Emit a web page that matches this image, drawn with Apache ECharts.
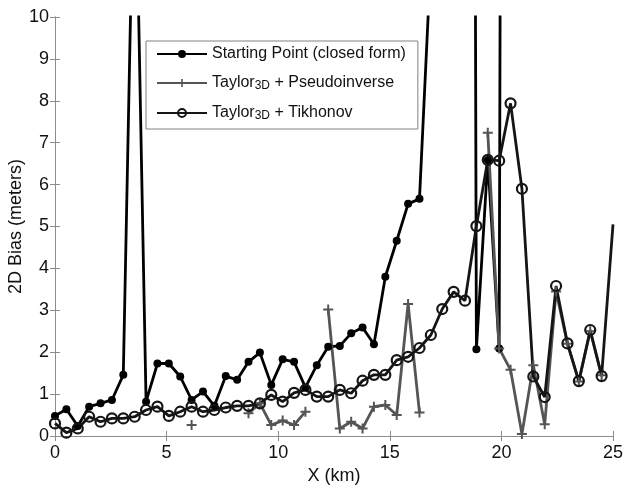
<!DOCTYPE html>
<html>
<head>
<meta charset="utf-8">
<script src="https://cdn.jsdelivr.net/npm/echarts@6/dist/echarts.min.js"></script>
<style>
  html, body { margin: 0; padding: 0; background: #fff; }
  #chart { width: 625px; height: 488px; }
</style>
</head>
<body>
<div id="chart"></div>
<script>
// x positions of the samples (km)
const xKm = [0.00, 0.51, 1.02, 1.53, 2.04, 2.55, 3.06, 3.57, 4.08, 4.59,
  5.10, 5.61, 6.12, 6.63, 7.14, 7.65, 8.16, 8.67, 9.18, 9.69,
  10.20, 10.71, 11.22, 11.73, 12.24, 12.76, 13.27, 13.78, 14.29, 14.80,
  15.31, 15.82, 16.33, 16.84, 17.35, 17.86, 18.37, 18.88, 19.39, 19.90,
  20.41, 20.92, 21.43, 21.94, 22.45, 22.96, 23.47, 23.98, 24.49, 25.00];

// Starting Point (closed form)
const startBias = [0.48, 0.64, 0.24, 0.70, 0.78, 0.86, 1.46, 15.0, 0.82, 1.73,
  1.73, 1.42, 0.86, 1.06, 0.72, 1.43, 1.34, 1.77, 1.99, 1.22,
  1.83, 1.77, 1.16, 1.69, 2.13, 2.15, 2.45, 2.59, 2.19, 3.80,
  4.66, 5.54, 5.66, 11.4, 40, 70, 100, 2.07, 6.59, 2.09,
  100, 100, 100, 100, 100, 100, 100, 100, 100, 100];

// Taylor3D + Pseudoinverse (null = no value)
const pinvBias = [null, null, null, null, null, null, null, null, null, null,
  null, null, 0.26, null, null, null, null, 0.54, 0.78, 0.26,
  0.37, 0.26, 0.58, null, 3.02, 0.18, 0.34, 0.18, 0.70, 0.74,
  0.50, 3.15, 0.56, null, null, null, null, null, 7.24, 2.09,
  1.58, 0.05, 1.69, 0.28, 3.45, 2.20, 1.30, 2.50, 1.45, null];

// Taylor3D + Tikhonov
const tikhBias = [0.30, 0.08, 0.18, 0.46, 0.34, 0.42, 0.42, 0.46, 0.62, 0.70,
  0.48, 0.58, 0.70, 0.58, 0.62, 0.68, 0.72, 0.72, 0.78, 0.98,
  0.82, 1.03, 1.10, 0.94, 0.94, 1.10, 1.02, 1.32, 1.46, 1.46,
  1.81, 1.89, 2.10, 2.41, 3.03, 3.44, 3.23, 5.01, 6.59, 6.57,
  7.94, 5.90, 1.42, 0.93, 3.58, 2.21, 1.31, 2.53, 1.43, 5.05];

const xTicks = [0, 5, 10, 15, 20, 25];
const yTicks = [0, 1, 2, 3, 4, 5, 6, 7, 8, 9, 10];

const names = ['Starting Point (closed form)', 'Taylor3D + Pseudoinverse', 'Taylor3D + Tikhonov'];

function pairs(ys) {
  return xKm.map(function (x, i) { return [x, ys[i] == null ? '-' : ys[i]]; });
}

const font = 'Liberation Sans, Arial, Helvetica, sans-serif';
const plus = 'path://M4,0h2v4h4v2h-4v4h-2v-4h-4v-2h4z';
const lastIdx = xKm.length - 1;

let myChart = echarts.init(document.getElementById('chart'));
let option = {
  animation: false,
  textStyle: { fontFamily: font },
  grid: { left: 55, right: 12, top: 17, bottom: 52, containLabel: false, outerBoundsMode: 'none' },
  legend: {
    orient: 'vertical',
    left: 146,
    top: 41,
    padding: [5, 12, 7, 10],
    itemGap: 6,
    itemWidth: 50,
    itemHeight: 10,
    backgroundColor: '#fff',
    borderColor: '#808080',
    borderWidth: 1,
    data: names,
    formatter: function (name) {
      if (name.indexOf('Taylor3D') === 0) {
        return '{n|Taylor}{sub|3D}{n|' + name.slice(8) + '}';
      }
      return '{n|' + name + '}';
    },
    textStyle: {
      color: '#111',
      rich: {
        n: { fontSize: 16, lineHeight: 18, fontFamily: font, color: '#111', verticalAlign: 'middle' },
        sub: { fontSize: 12, lineHeight: 12, fontFamily: font, color: '#111', padding: [12, 0, 0, 0], verticalAlign: 'bottom' }
      }
    }
  },
  xAxis: [
    {
      type: 'value',
      min: 0,
      max: 25,
      interval: 5,
      name: 'X (km)',
      nameLocation: 'middle',
      nameGap: 29,
      nameTextStyle: { fontSize: 18, color: '#111', fontFamily: font },
      axisLine: { show: true, lineStyle: { color: '#8c8c8c', width: 1 } },
      axisTick: { show: true, inside: true, length: 5, lineStyle: { color: '#8c8c8c' } },
      axisLabel: { fontSize: 18, color: '#111', margin: 8,
        formatter: function (v) { return xTicks.indexOf(v) >= 0 ? String(v) : ''; } },
      splitLine: { show: false }
    },
    {
      type: 'value',
      position: 'top',
      min: 0,
      max: 25,
      interval: 5,
      axisLine: { show: true, lineStyle: { color: '#8c8c8c', width: 1 } },
      axisTick: { show: true, inside: true, length: 5, lineStyle: { color: '#8c8c8c' } },
      axisLabel: { show: false },
      splitLine: { show: false }
    }
  ],
  yAxis: [
    {
      type: 'value',
      min: 0,
      max: 10,
      interval: 1,
      name: '2D Bias (meters)',
      nameLocation: 'middle',
      nameGap: 30,
      nameMoveOverlap: false,
      nameTextStyle: { fontSize: 18, color: '#111', fontFamily: font },
      axisLine: { show: true, lineStyle: { color: '#8c8c8c', width: 1 } },
      axisTick: { show: true, inside: true, length: 5, lineStyle: { color: '#8c8c8c' } },
      axisLabel: { fontSize: 18, color: '#111', margin: 6,
        formatter: function (v) { return yTicks.indexOf(v) >= 0 ? String(v) : ''; } },
      splitLine: { show: false }
    },
    {
      type: 'value',
      position: 'right',
      min: 0,
      max: 10,
      interval: 1,
      axisLine: { show: true, lineStyle: { color: '#8c8c8c', width: 1 } },
      axisTick: { show: true, inside: true, length: 5, lineStyle: { color: '#8c8c8c' } },
      axisLabel: { show: false },
      splitLine: { show: false }
    }
  ],
  series: [
    {
      name: names[0],
      type: 'line',
      data: pairs(startBias),
      clip: true,
      symbol: 'circle',
      symbolSize: 8,
      showAllSymbol: true,
      itemStyle: { color: '#000' },
      lineStyle: { color: '#000', width: 2.8 }
    },
    {
      name: names[1],
      type: 'line',
      data: pairs(pinvBias),
      clip: true,
      connectNulls: false,
      symbol: plus,
      symbolSize: 10,
      showAllSymbol: true,
      itemStyle: { color: '#555' },
      lineStyle: { color: '#555', width: 2.8 }
    },
    {
      name: names[2],
      type: 'line',
      data: pairs(tikhBias),
      clip: true,
      symbol: 'circle',
      symbolSize: function (val, params) { return params.dataIndex === lastIdx ? 0 : 10; },
      showAllSymbol: true,
      itemStyle: { color: 'rgba(0,0,0,0)', borderColor: '#151515', borderWidth: 2.2 },
      lineStyle: { color: '#151515', width: 2.8 }
    }
  ]
};
myChart.setOption(option);
</script>
</body>
</html>
